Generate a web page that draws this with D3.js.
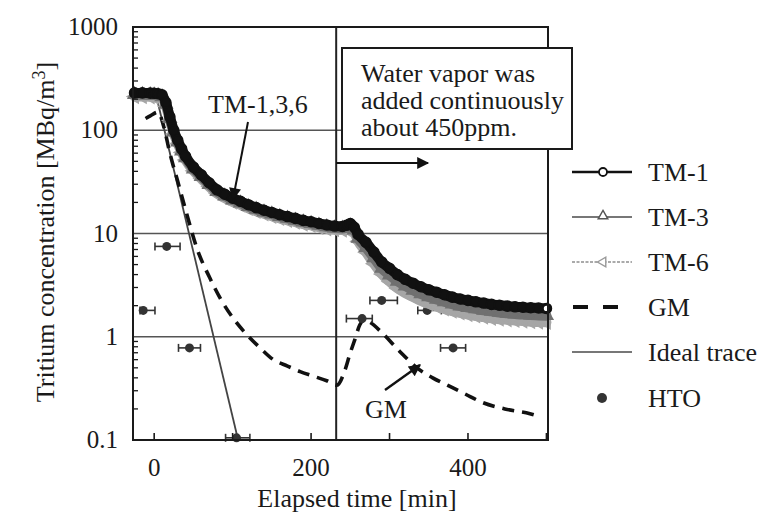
<!DOCTYPE html>
<html><head><meta charset="utf-8">
<script src="https://cdn.jsdelivr.net/npm/d3@7"></script>
<style>
body{margin:0;background:#fff}
</style>
</head><body>
<svg id="c" width="783" height="520" style="font-family:'Liberation Serif'"></svg>
<script>
// ---- data ----
const times = [-25,-15,-5,0,5,10,15,20,25,30,35,40,50,60,70,80,90,100,110,120,130,140,150,160,170,180,190,200,210,220,230,240,245,250,255,260,270,280,290,300,310,320,330,340,350,360,370,380,390,400,410,420,430,440,450,460,470,480,490,500];
const tm1 = [230,230,229,228,226,220,185,135,100,80,66,56,44,37,31,26.5,24,22,20.5,19,17.8,16.8,16,15.2,14.6,14,13.4,13,12.5,12.1,11.8,11.7,12,12.5,11.5,9.8,8.2,6.6,5.3,4.6,4.0,3.6,3.3,3.05,2.85,2.7,2.55,2.42,2.32,2.25,2.18,2.12,2.06,2.02,1.98,1.95,1.93,1.91,1.9,1.88];
const tm3 = [221,221,220,219,217,211,178,130,96,77,63,54,42,35.5,29.8,25.4,23,21.1,19.7,18.2,17.1,16.1,15.4,14.6,14,13.4,12.9,12.5,12,11.6,11.3,11.2,11.4,11.8,10.8,9.0,7.3,5.8,4.6,3.95,3.45,3.1,2.82,2.6,2.43,2.3,2.18,2.07,1.98,1.92,1.86,1.8,1.76,1.72,1.69,1.66,1.64,1.62,1.61,1.6];
const tm6 = [212,212,211,210,208,202,170,124,92,74,61,51.5,40.5,34,28.5,24.4,22,20.2,18.9,17.5,16.4,15.5,14.7,14,13.4,12.9,12.3,12,11.5,11.1,10.9,10.8,11,11.3,10.2,8.4,6.6,5.1,4.05,3.42,2.95,2.65,2.42,2.23,2.08,1.96,1.86,1.77,1.7,1.64,1.59,1.55,1.51,1.48,1.46,1.44,1.42,1.4,1.39,1.38];
const gmTimes  = [-11,-5,5,12,20,30,40,55,71,85,101,116,135,152,170,186,205,220,233,243,250,256,262,268,275,290,313,335,355,377,396,419,447,479,490];
const gmValues = [130,138,150,110,60,32,17,7,3.7,2.3,1.5,1.09,0.78,0.6,0.52,0.46,0.41,0.375,0.34,0.47,0.7,0.95,1.3,1.45,1.38,1.1,0.72,0.5,0.4,0.33,0.28,0.23,0.2,0.18,0.17];
const idealTimes  = [3,107];
const idealValues = [210,0.1];
const htoTimes  = [-14,16,45,105,265,290,348,381];
const htoValues = [1.8,7.5,0.78,0.105,1.5,2.25,1.8,0.78];
const htoLo     = [-18,1,31,91,245,275,336,365];
const htoHi     = [1,33,59,122,278,310,366,397];
const xTicks = [0,100,200,300,400,500];
const xTickLabels = [0,200,400];
const yTicks = [0.1,1,10,100,1000];
const yTickLabels = ["0.1","1","10","100","1000"];
const gridValues = [1,10,100];
const stepTime = 232;
const legendLabels = ["TM-1","TM-3","TM-6","GM","Ideal trace","HTO"];

// ---- layout ----
const L=133,R=548,T=27,B=440;
const svg=d3.select("#c");
const x=d3.scaleLinear().domain([-27,502]).range([L,R]);
const y=d3.scaleLog().domain([0.1,1000]).range([B,T]);
const FILL="#1a1a1a";
function txt(sel){
  return sel.attr("font-family","Liberation Serif").style("font-family","'Liberation Serif'").attr("fill",FILL);
}

const defs=svg.append("defs");
defs.append("marker").attr("id","ah").attr("viewBox","0 0 10 10").attr("refX",9).attr("refY",5)
  .attr("markerWidth",16).attr("markerHeight",12).attr("markerUnits","userSpaceOnUse").attr("orient","auto")
  .append("path").attr("d","M0,0L10,5L0,10Z").attr("fill","#111");

// grid
svg.append("g").selectAll("line").data(gridValues).join("line")
  .attr("x1",L).attr("x2",R).attr("y1",d=>y(d)).attr("y2",d=>y(d))
  .attr("stroke","#555").attr("stroke-width",1.6);
svg.append("line").attr("x1",x(stepTime)).attr("x2",x(stepTime)).attr("y1",T).attr("y2",B)
  .attr("stroke","#222").attr("stroke-width",2);

// ideal trace
const idealPts=idealTimes.map((t,i)=>[t,idealValues[i]]);
svg.append("path").datum(idealPts)
  .attr("d",d3.line().x(d=>x(d[0])).y(d=>y(d[1])))
  .attr("fill","none").attr("stroke","#444").attr("stroke-width",1.8);

// GM
const gmPts=gmTimes.map((t,i)=>[t,gmValues[i]]);
svg.append("path").datum(gmPts)
  .attr("d",d3.line().curve(d3.curveMonotoneX).x(d=>x(d[0])).y(d=>y(d[1])))
  .attr("fill","none").attr("stroke","#111").attr("stroke-width",3.6).attr("stroke-dasharray","12,8");

// HTO
const hto=htoTimes.map((t,i)=>({t,v:htoValues[i],lo:htoLo[i],hi:htoHi[i]}));
const hg=svg.append("g").attr("stroke","#333").attr("stroke-width",1.6);
hto.forEach(d=>{
  const yy=y(d.v);
  hg.append("line").attr("x1",x(d.lo)).attr("x2",x(d.hi)).attr("y1",yy).attr("y2",yy);
  hg.append("line").attr("x1",x(d.lo)).attr("x2",x(d.lo)).attr("y1",yy-4).attr("y2",yy+4);
  hg.append("line").attr("x1",x(d.hi)).attr("x2",x(d.hi)).attr("y1",yy-4).attr("y2",yy+4);
  hg.append("circle").attr("cx",x(d.t)).attr("cy",yy).attr("r",4.5).attr("fill","#333").attr("stroke","none");
});

// TM series
function drawTM(vals,color,w,sym,rot,size){
  const pts=times.map((t,i)=>[t,vals[i]]);
  svg.append("path").datum(pts)
    .attr("d",d3.line().curve(d3.curveMonotoneX).x(d=>x(d[0])).y(d=>y(d[1])))
    .attr("fill","none").attr("stroke",color).attr("stroke-width",w).attr("stroke-linejoin","round").attr("stroke-linecap","round");
  svg.append("g").selectAll("path").data(pts).join("path")
    .attr("d",d3.symbol().type(sym).size(size))
    .attr("transform",d=>`translate(${x(d[0])},${y(d[1])}) rotate(${rot})`)
    .attr("fill",color).attr("stroke",color).attr("stroke-width",1.5);
}
drawTM(tm6,"#a6a6a6",10,d3.symbolTriangle,-90,70);
drawTM(tm3,"#707070",10,d3.symbolTriangle,0,70);
drawTM(tm1,"#111",10,d3.symbolCircle,0,80);
svg.append("circle").attr("cx",x(times[times.length-1])).attr("cy",y(tm1[tm1.length-1])).attr("r",3.5)
  .attr("fill","#fff").attr("stroke","#111").attr("stroke-width",1.8);

// frame
svg.append("rect").attr("x",L).attr("y",T).attr("width",R-L).attr("height",B-T)
  .attr("fill","none").attr("stroke",FILL).attr("stroke-width",2);

// x ticks
svg.append("g").selectAll("line").data(xTicks).join("line")
  .attr("x1",d=>x(d)).attr("x2",d=>x(d)).attr("y1",B).attr("y2",B-7)
  .attr("stroke",FILL).attr("stroke-width",1.6);
txt(svg.append("g").selectAll("text").data(xTickLabels).join("text"))
  .attr("x",d=>x(d)).attr("y",476).attr("text-anchor","middle").attr("font-size",25).text(d=>d);

// y minor ticks
const minor=[];
[0.1,1,10,100].forEach(dec=>{for(let k=2;k<=9;k++)minor.push(dec*k);});
svg.append("g").selectAll("line").data(minor).join("line")
  .attr("x1",L).attr("x2",L+5).attr("y1",d=>y(d)).attr("y2",d=>y(d))
  .attr("stroke",FILL).attr("stroke-width",1.3);
txt(svg.append("g").selectAll("text").data(yTicks).join("text"))
  .attr("x",118).attr("y",d=>y(d)+8).attr("text-anchor","end").attr("font-size",25)
  .text((d,i)=>yTickLabels[i]);

// axis titles
txt(svg.append("text")).attr("x",357).attr("y",507).attr("text-anchor","middle").attr("font-size",26).text("Elapsed time [min]");
const yt=txt(svg.append("text")).attr("transform","translate(54,232) rotate(-90)").attr("text-anchor","middle").attr("font-size",26);
yt.append("tspan").text("Tritium concentration [MBq/m");
yt.append("tspan").attr("dy",-9).attr("font-size",18).text("3");
yt.append("tspan").attr("dy",9).text("]");

// annotation box
svg.append("rect").attr("x",342).attr("y",48).attr("width",230).attr("height",101)
  .attr("fill","#fff").attr("stroke",FILL).attr("stroke-width",2);
["Water vapor was","added continuously","about 450ppm."].forEach((s,i)=>{
  txt(svg.append("text")).attr("x",361).attr("y",82+i*27).attr("font-size",26).text(s);
});
svg.append("line").attr("x1",x(stepTime)).attr("x2",428).attr("y1",163).attr("y2",163)
  .attr("stroke","#111").attr("stroke-width",2).attr("marker-end","url(#ah)");

// TM label
txt(svg.append("text")).attr("x",208).attr("y",113).attr("font-size",26).text("TM-1,3,6");
svg.append("line").attr("x1",248).attr("y1",122).attr("x2",233).attr("y2",199)
  .attr("stroke","#111").attr("stroke-width",2).attr("marker-end","url(#ah)");
// GM label
txt(svg.append("text")).attr("x",365).attr("y",418).attr("font-size",26).text("GM");
svg.append("line").attr("x1",385).attr("y1",390).attr("x2",420).attr("y2",365)
  .attr("stroke","#111").attr("stroke-width",2.4).attr("marker-end","url(#ah)");

// legend
const ly=[172,217,262,307,352,398];
const lg=svg.append("g");
legendLabels.forEach((s,i)=>{
  txt(lg.append("text")).attr("x",648).attr("y",ly[i]+9).attr("font-size",26).text(s);
});
lg.append("line").attr("x1",572).attr("x2",632).attr("y1",ly[0]).attr("y2",ly[0]).attr("stroke","#111").attr("stroke-width",2.6);
lg.append("circle").attr("cx",603).attr("cy",ly[0]).attr("r",4).attr("fill","#fff").attr("stroke","#111").attr("stroke-width",1.8);
lg.append("line").attr("x1",572).attr("x2",632).attr("y1",ly[1]).attr("y2",ly[1]).attr("stroke","#777").attr("stroke-width",2);
lg.append("path").attr("d",d3.symbol().type(d3.symbolTriangle).size(40)).attr("transform",`translate(603,${ly[1]-1})`)
  .attr("fill","#fff").attr("stroke","#555").attr("stroke-width",1.4);
lg.append("line").attr("x1",572).attr("x2",632).attr("y1",ly[2]).attr("y2",ly[2]).attr("stroke","#aaa").attr("stroke-width",2).attr("stroke-dasharray","3,1.5");
lg.append("path").attr("d",d3.symbol().type(d3.symbolTriangle).size(40)).attr("transform",`translate(603,${ly[2]}) rotate(-90)`)
  .attr("fill","#fff").attr("stroke","#999").attr("stroke-width",1.4);
lg.append("line").attr("x1",573).attr("x2",621).attr("y1",ly[3]).attr("y2",ly[3]).attr("stroke","#111").attr("stroke-width",4).attr("stroke-dasharray","15,15");
lg.append("line").attr("x1",572).attr("x2",632).attr("y1",ly[4]).attr("y2",ly[4]).attr("stroke","#777").attr("stroke-width",2);
lg.append("circle").attr("cx",602).attr("cy",ly[5]).attr("r",5).attr("fill","#333");
</script>
</body></html>
